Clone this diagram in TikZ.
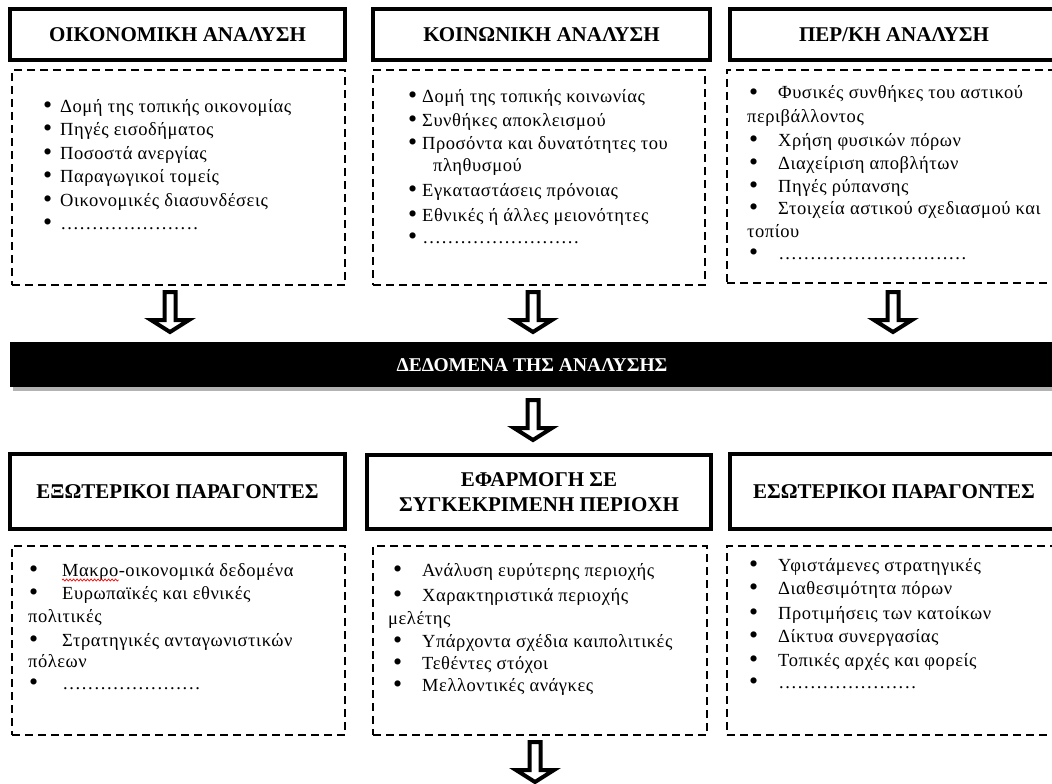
\documentclass[tikz,border=0pt]{standalone}
\usepackage{fontspec}
\setmainfont{Liberation Serif}
\newfontfamily\bodyfont[LetterSpace=3]{Liberation Serif}
\usetikzlibrary{decorations.pathmorphing}
\newcommand\dotrow[1]{\hbox to #1pt{\leaders\hbox to 6.3pt{\hss.\hss}\hfill}}
\newcommand\bigbullet{\raisebox{-1.2pt}{\scalebox{1.4}{\textbullet}}}
\newcommand\li[4]{\node[item] (#1) at (#2) {\makebox[#3pt][l]{\bigbullet}#4};}
\newcommand\cont[3]{\node[item] (#1) at (#2) {#3};}
\newcommand\bigarrow[1]{\draw[barrow] (#1) ++(-5.5,0) -- ++(11,0) -- ++(0,28) -- ++(13.5,0) -- ++(-19,12) -- ++(-19,-12) -- ++(13.5,0) -- cycle;}
\begin{document}
\begin{tikzpicture}[x=1pt,y=-1pt,
  hdr/.style={draw, line width=4pt, inner sep=0pt, align=center,
    font=\fontsize{21}{25}\selectfont\bfseries},
  dbox/.style={draw, line width=1.8pt, dash pattern=on 8pt off 5pt, inner sep=0pt},
  item/.style={anchor=base west, inner sep=0pt, text height=12pt, text depth=4pt,
    font=\bodyfont\fontsize{18.5}{21}\selectfont},
  barrow/.style={draw, line width=4pt, fill=white, line join=miter},
  spell/.style={draw=red, line width=0.7pt, decorate,
    decoration={snake, amplitude=1pt, segment length=3.5pt}}]
\useasboundingbox (0,0) rectangle (1052,784);
\clip (0,0) rectangle (1052,784);

% header boxes
\node[hdr, minimum width=335pt, minimum height=51pt] (h1) at (177.5,34.5) {ΟΙΚΟΝΟΜΙΚΗ ΑΝΑΛΥΣΗ};
\node[hdr, minimum width=337pt, minimum height=51pt] (h2) at (541.5,34.5) {ΚΟΙΝΩΝΙΚΗ ΑΝΑΛΥΣΗ};
\node[hdr, minimum width=328pt, minimum height=51pt] (h3) at (894,34.5) {ΠΕΡ/ΚΗ ΑΝΑΛΥΣΗ};
\node[hdr, minimum width=335pt, minimum height=75pt] (g1) at (177.5,491.5) {ΕΞΩΤΕΡΙΚΟΙ ΠΑΡΑΓΟΝΤΕΣ};
\node[hdr, minimum width=344pt, minimum height=74pt] (g2) at (539,492) {ΕΦΑΡΜΟΓΗ ΣΕ\\ΣΥΓΚΕΚΡΙΜΕΝΗ ΠΕΡΙΟΧΗ};
\node[hdr, minimum width=328pt, minimum height=75pt] (g3) at (894,491.5) {ΕΣΩΤΕΡΙΚΟΙ ΠΑΡΑΓΟΝΤΕΣ};

% dashed boxes
\node[dbox, minimum width=333pt, minimum height=215pt] (d1) at (178.5,177.5) {};
\node[dbox, minimum width=332pt, minimum height=215pt] (d2) at (539,177.5) {};
\node[dbox, minimum width=331pt, minimum height=213pt] (d3) at (892.5,176.5) {};
\node[dbox, minimum width=333pt, minimum height=189pt] (d4) at (178.5,640.5) {};
\node[dbox, minimum width=334pt, minimum height=189pt] (d5) at (540,640.5) {};
\node[dbox, minimum width=331pt, minimum height=189pt] (d6) at (892.5,640.5) {};

% data bar
\fill[gray!60] (13,346) rectangle (1065,391);
\node[fill=black, minimum width=1052pt, minimum height=45pt, inner sep=0pt] (bar) at (536,364.5) {};
\node[text=white, inner sep=0pt, font=\fontsize{19.5}{22}\selectfont\bfseries] (bartext) at (532,365) {ΔΕΔΟΜΕΝΑ ΤΗΣ ΑΝΑΛΥΣΗΣ};

% block arrows
\coordinate (a1) at (170,292);
\coordinate (a2) at (533,292);
\coordinate (a3) at (893,292);
\coordinate (a4) at (533,400);
\coordinate (a5) at (535,742);
\bigarrow{a1}
\bigarrow{a2}
\bigarrow{a3}
\bigarrow{a4}
\bigarrow{a5}

% box 1
\li{t11}{43,112}{17}{Δομή της τοπικής οικονομίας}
\li{t12}{43,135.5}{17}{Πηγές εισοδήματος}
\li{t13}{43,159}{17}{Ποσοστά ανεργίας}
\li{t14}{43,182.5}{17}{Παραγωγικοί τομείς}
\li{t15}{43,206}{17}{Οικονομικές διασυνδέσεις}
\li{t16}{43,229.5}{17}{\dotrow{143}}

% box 2
\li{t21}{408,102}{14}{Δομή της τοπικής κοινωνίας}
\li{t22}{408,126}{14}{Συνθήκες αποκλεισμού}
\li{t23}{408,149}{14}{Προσόντα και δυνατότητες του}
\cont{t23b}{433,171}{πληθυσμού}
\li{t24}{408,196}{14}{Εγκαταστάσεις πρόνοιας}
\li{t25}{408,221}{14}{Εθνικές ή άλλες μειονότητες}
\li{t26}{408,243}{14}{\dotrow{158}}

% box 3
\li{t31}{749,99}{29}{Φυσικές συνθήκες του αστικού}
\cont{t31b}{747,122}{περιβάλλοντος}
\li{t32}{749,146}{29}{Χρήση φυσικών πόρων}
\li{t33}{749,169}{29}{Διαχείριση αποβλήτων}
\li{t34}{749,192}{29}{Πηγές ρύπανσης}
\li{t35}{749,214}{29}{Στοιχεία αστικού σχεδιασμού και}
\cont{t35b}{747,237}{τοπίου}
\li{t36}{749,259}{29}{\dotrow{189}}

% box 4
\li{t41}{29,576}{33}{Μακρο}
\node[item] (t41b) at (t41.base east) {-οικονομικά δεδομένα};
\draw[spell] ([xshift=33pt,yshift=-4pt]t41.base west) -- ([yshift=-4pt]t41.base east);
\li{t42}{29,599}{33}{Ευρωπαϊκές και εθνικές}
\cont{t42b}{28,622}{πολιτικές}
\li{t43}{29,646}{33}{Στρατηγικές ανταγωνιστικών}
\cont{t43b}{28,667}{πόλεων}
\li{t44}{29,689}{33}{\dotrow{141}}

% box 5
\li{t51}{393,576}{29}{Ανάλυση ευρύτερης περιοχής}
\li{t52}{393,601}{29}{Χαρακτηριστικά περιοχής}
\cont{t52b}{388,624}{μελέτης}
\li{t53}{393,647}{29}{Υπάρχοντα σχέδια καιπολιτικές}
\li{t54}{393,669}{29}{Τεθέντες στόχοι}
\li{t55}{393,691}{29}{Μελλοντικές ανάγκες}

% box 6
\li{t61}{749,571}{29}{Υφιστάμενες στρατηγικές}
\li{t62}{749,594}{29}{Διαθεσιμότητα πόρων}
\li{t63}{749,619}{29}{Προτιμήσεις των κατοίκων}
\li{t64}{749,642}{29}{Δίκτυα συνεργασίας}
\li{t65}{749,666}{29}{Τοπικές αρχές και φορείς}
\li{t66}{749,688}{29}{\dotrow{144}}
\end{tikzpicture}
\end{document}
